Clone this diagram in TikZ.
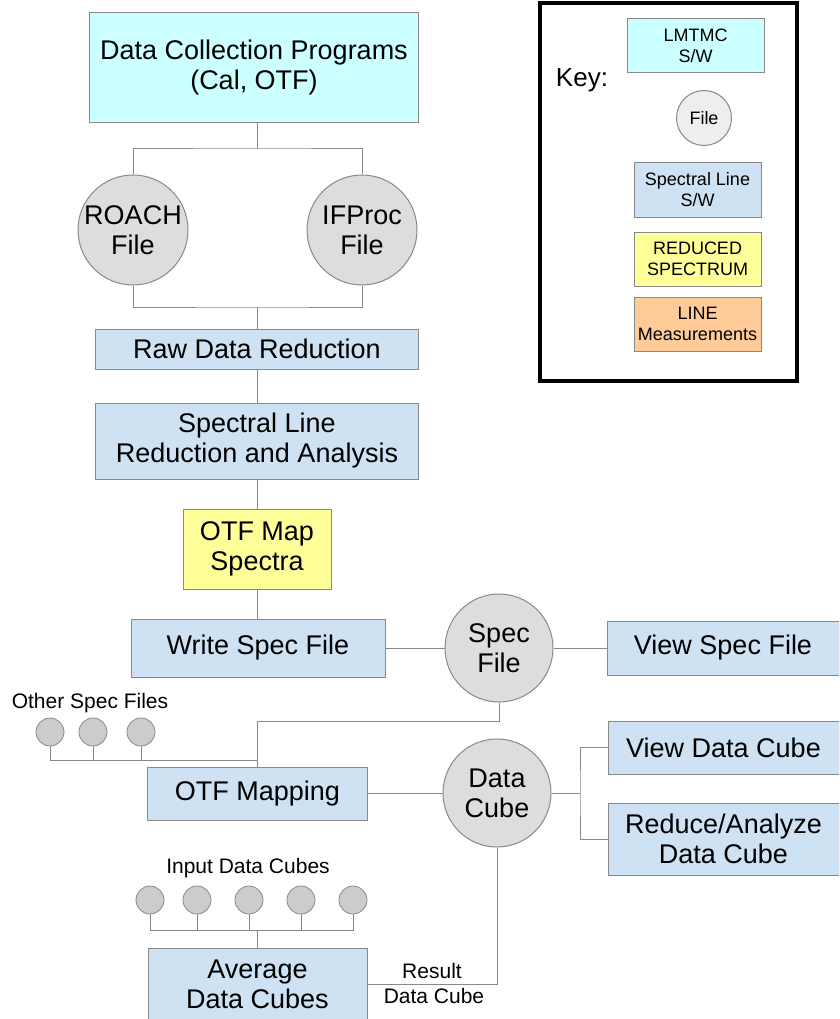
\documentclass[tikz,border=0pt]{standalone}
\usepackage{fontspec}
\setmainfont{Liberation Sans}
\usetikzlibrary{positioning}

\definecolor{swcyan}{HTML}{CCFFFF}
\definecolor{slblue}{HTML}{CFE2F3}
\definecolor{redyellow}{HTML}{FFFF99}
\definecolor{lineorange}{HTML}{FFCC99}
\definecolor{filegray}{HTML}{DDDDDD}
\definecolor{dotgray}{HTML}{CCCCCC}
\definecolor{keygray}{HTML}{EEEEEE}
\definecolor{edgegray}{HTML}{888888}

\newcommand{\bigtext}{\fontsize{27}{30}\selectfont}
\newcommand{\midtext}{\fontsize{21}{25}\selectfont}
\newcommand{\keytext}{\fontsize{18}{21}\selectfont}

\begin{document}
\begin{tikzpicture}[x=1pt,y=-1pt,
  box/.style={draw=edgegray,line width=1pt,inner sep=0pt,align=center,font=\bigtext},
  swbox/.style={box,fill=slblue},
  filebox/.style={circle,draw=edgegray,line width=1pt,fill=filegray,inner sep=0pt,
                  minimum size=108pt,align=center,font=\bigtext},
  dotfile/.style={circle,draw=edgegray,line width=0.8pt,fill=dotgray,minimum size=28pt,inner sep=0pt},
  keybox/.style={box,font=\keytext,minimum width=127pt,minimum height=54pt},
  wire/.style={draw=edgegray,line width=1pt}]
  % page frame
  \useasboundingbox (0,0) rectangle (839,1019);
  \clip (0,0) rectangle (839,1019);

  % key
  \draw[line width=4pt] (540,3) rectangle (797,381);
  \node[font=\fontsize{26}{30}\selectfont] (keylabel) at (582,80) {Key:};
  \node[box,fill=swcyan,font=\keytext,minimum width=137pt,minimum height=54pt] (keysw) at (695.5,46) {LMTMC\\S/W};
  \node[filebox,fill=keygray,minimum size=55pt,font=\keytext] (keyfile) at (704,118) {File};
  \node[keybox,fill=slblue] (keyspec) at (697.5,190) {Spectral Line\\S/W};
  \node[keybox,fill=redyellow] (keyred) at (697.5,259) {REDUCED\\SPECTRUM};
  \node[keybox,fill=lineorange] (keyline) at (697.5,324) {LINE\\Measurements};

  % main column
  \node[box,fill=swcyan,minimum width=329pt,minimum height=110pt] (collect) at (254,68) {Data Collection Programs\\(Cal, OTF)};
  \node[filebox,minimum size=110pt] (roach) at (133,230) {ROACH\\File};
  \node[filebox,minimum size=110pt] (ifproc) at (362,230) {IFProc\\File};
  \node[swbox,minimum width=323pt,minimum height=40pt] (raw) at (257,349) {Raw Data Reduction};
  \node[swbox,minimum width=323pt,minimum height=76pt] (specline) at (257,441) {Spectral Line\\Reduction and Analysis};
  \node[box,fill=redyellow,minimum width=148pt,minimum height=80pt] (otfspec) at (257,549) {OTF Map\\Spectra};
  \node[swbox,minimum width=254pt,minimum height=58pt] (write) at (258,648) {Write Spec File};
  \node[filebox] (specfile) at (499,648) {Spec\\File};
  \node[swbox,minimum width=232pt,minimum height=54pt] (viewspec) at (723,648) {View Spec File};

  \node[font=\midtext] (otherlabel) at (90,703) {Other Spec Files};
  \node[dotfile] (other1) at (50,732) {};
  \node[dotfile] (other2) at (93,732) {};
  \node[dotfile] (other3) at (141,732) {};

  \node[swbox,minimum width=220pt,minimum height=53pt] (otfmap) at (257.5,793.5) {OTF Mapping};
  \node[filebox] (cube) at (497,793) {Data\\Cube};
  \node[swbox,minimum width=231pt,minimum height=53pt] (viewcube) at (723.5,747.5) {View Data Cube};
  \node[swbox,minimum width=231pt,minimum height=72pt] (reduce) at (723.5,839) {Reduce/Analyze\\Data Cube};

  \node[font=\midtext] (inputlabel) at (248,868) {Input Data Cubes};
  \foreach \i/\x in {1/150,2/197,3/249,4/301,5/353}
    \node[dotfile] (input\i) at (\x,900) {};
  \node[swbox,minimum width=219pt,minimum height=72pt] (avg) at (257.5,984) {Average\\Data Cubes};
  \node[font=\midtext] (result) at (432,971) {Result};
  \node[font=\midtext] (resultcube) at (434,996) {Data Cube};

  % connectors
  \coordinate (split) at (257,149);
  \coordinate (join) at (257,307);
  \draw[wire] (collect.south -| split) -- (split);
  \draw[wire] (roach.north) |- (split) -| (ifproc.north);
  \draw[wire] (roach.south) |- (join) -| (ifproc.south);
  \draw[wire] (join) -- (raw.north -| join);
  \draw[wire] (raw.south) -- (specline.north);
  \draw[wire] (specline.south) -- (otfspec.north);
  \draw[wire] (otfspec.south) -- (write.north -| otfspec.south);
  \draw[wire] (write.east) -- (specfile.west);
  \draw[wire] (specfile.east) -- (viewspec.west);

  \coordinate (merge) at (257,721);
  \coordinate (otherjoin) at (257,760);
  \draw[wire] (specfile.south) |- (merge) -- (otfmap.north -| merge);
  \draw[wire] (other1.south) |- (otherjoin);
  \draw[wire] (other2.south) -- (other2.south |- otherjoin);
  \draw[wire] (other3.south) -- (other3.south |- otherjoin);

  \draw[wire] (otfmap.east |- cube.west) -- (cube.west);
  \coordinate (cubesplit) at (580,793);
  \draw[wire] (cube.east) -- (cubesplit);
  \draw[wire] (viewcube.west) -| (cubesplit) |- (reduce.west);

  \coordinate (inputjoin) at (257,930);
  \draw[wire] (input1.south) |- (inputjoin) -| (input5.south);
  \foreach \i in {2,3,4}
    \draw[wire] (input\i.south) -- (input\i.south |- inputjoin);
  \draw[wire] (inputjoin) -- (avg.north -| inputjoin);
  \draw[wire] (cube.south) |- (avg.east |- resultcube.north);

\end{tikzpicture}
\end{document}
